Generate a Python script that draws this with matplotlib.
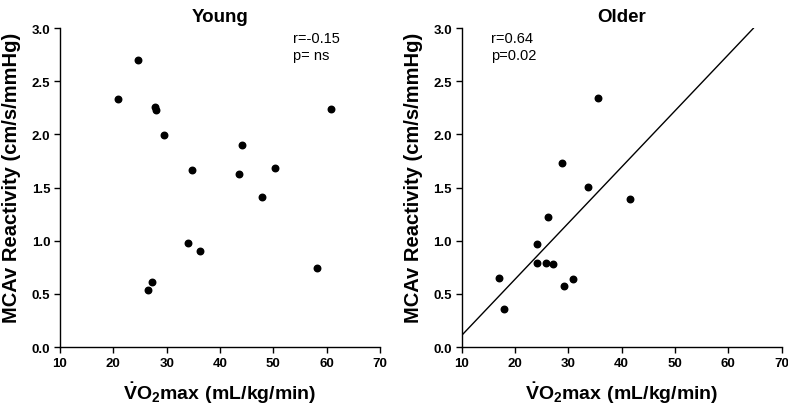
import numpy as np
import matplotlib.pyplot as plt

plt.rcParams['font.family'] = ['Liberation Sans', 'DejaVu Sans']
plt.rcParams['mathtext.fontset'] = 'custom'
plt.rcParams['mathtext.rm'] = 'Liberation Sans:bold'
plt.rcParams['mathtext.bf'] = 'Liberation Sans:bold'

# young group
young_vo2 = [20.8, 24.6, 27.75, 28.0, 29.5, 34.7, 34.1, 36.3, 26.5, 27.2,
             44.2, 43.5, 50.25, 47.9, 58.25, 60.8]
young_mcav = [2.335, 2.70, 2.26, 2.23, 1.99, 1.67, 0.975, 0.905, 0.54, 0.61,
              1.905, 1.63, 1.68, 1.415, 0.743, 2.24]

# older group
older_vo2 = [17.0, 17.9, 24.1, 24.1, 25.9, 27.2, 26.1, 28.75, 29.1, 30.8,
             33.6, 35.6, 41.6]
older_mcav = [0.649, 0.357, 0.969, 0.79, 0.793, 0.777, 1.22, 1.733, 0.571,
              0.643, 1.508, 2.342, 1.395]

# regression line for older
fit_slope = 0.0528
fit_intercept = -0.418
fit_range = [10, 64.7]

xticks = [10, 20, 30, 40, 50, 60, 70]
yticks = [0.0, 0.5, 1.0, 1.5, 2.0, 2.5, 3.0]

fig = plt.figure(figsize=(7.88, 4.10), dpi=100)
ax1 = fig.add_axes([0.0761, 0.151, 0.406, 0.778])
ax2 = fig.add_axes([0.5859, 0.151, 0.406, 0.778])

xlab = r'$\dot{\mathrm{V}}\mathrm{O}_{\mathrm{2}}\mathrm{max\ (mL/kg/min)}$'
ylab = 'MCAv Reactivity (cm/s/mmHg)'

for ax, title in [(ax1, 'Young'), (ax2, 'Older')]:
    ax.set_xlim(10, 70)
    ax.set_ylim(0, 3.0)
    ax.set_xticks(xticks)
    ax.set_yticks(yticks)
    ax.set_xticklabels([str(t) for t in xticks], fontsize=9.5, fontweight='bold')
    ax.set_yticklabels(['%.1f' % t for t in yticks], fontsize=9.5, fontweight='bold')
    ax.spines['top'].set_visible(False)
    ax.spines['right'].set_visible(False)
    ax.spines['left'].set_linewidth(1)
    ax.spines['bottom'].set_linewidth(1)
    ax.tick_params(direction='out', length=4, width=1, pad=3)
    ax.set_title(title, fontsize=13.5, fontweight='bold', pad=5)
    ax.set_xlabel(xlab, fontsize=14, labelpad=8)
    ax.set_ylabel(ylab, fontsize=14.5, fontweight='bold')
    ax.yaxis.set_label_coords(-0.122, 0.535)

ax1.scatter(young_vo2, young_mcav, s=22, color='black', clip_on=False, zorder=3)
ax2.scatter(older_vo2, older_mcav, s=22, color='black', clip_on=False, zorder=3)

lx = np.array(fit_range)
ax2.plot(lx, fit_intercept + fit_slope * lx, color='black', lw=1)

ax1.text(53.75, 2.97, 'r=-0.15\np= ns', fontsize=10.5, va='top', ha='left',
         linespacing=1.25)
ax2.text(15.5, 2.97, 'r=0.64\np=0.02', fontsize=10.5, va='top', ha='left',
         linespacing=1.25)

fig.savefig('out.png', dpi=100)
